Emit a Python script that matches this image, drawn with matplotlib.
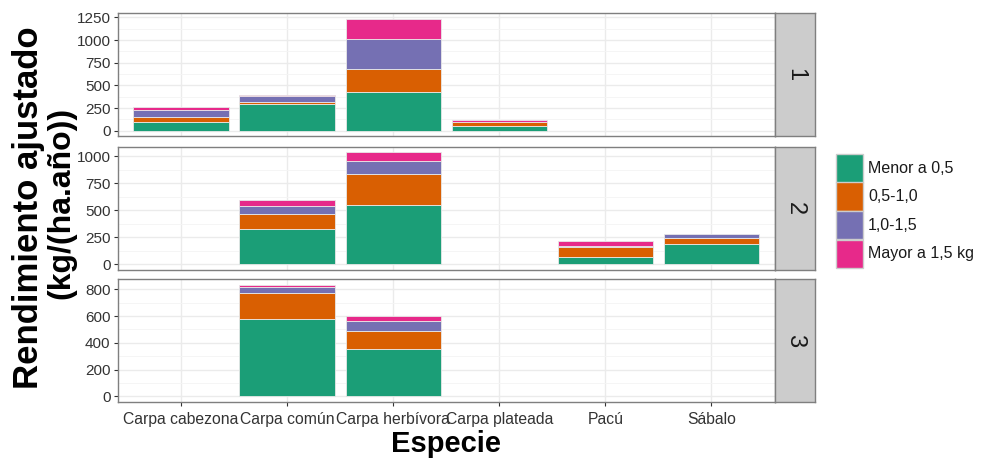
import numpy as np
import matplotlib
matplotlib.use("Agg")
import matplotlib.pyplot as plt
from matplotlib.patches import Rectangle

plt.rcParams['font.family'] = ['Liberation Sans', 'DejaVu Sans']

especies = ["Carpa cabezona", "Carpa común", "Carpa herbívora",
            "Carpa plateada", "Pacú", "Sábalo"]
clases = ["Menor a 0,5", "0,5-1,0", "1,0-1,5", "Mayor a 1,5 kg"]
colores = ["#1B9E77", "#D95F02", "#7570B3", "#E7298A"]
paneles = ["1", "2", "3"]

# panel 1
p1_menor = [100, 292, 430, 55, 0, 0]
p1_05_10 = [55, 30, 248, 45, 0, 0]
p1_10_15 = [70, 59, 333, 0, 0, 0]
p1_mayor = [38, 11, 222, 19, 0, 0]
# panel 2
p2_menor = [0, 323, 544, 0, 70, 184]
p2_05_10 = [0, 138, 295, 0, 90, 59]
p2_10_15 = [0, 80, 114, 0, 12, 34]
p2_mayor = [0, 49, 83, 0, 46, 0]
# panel 3
p3_menor = [0, 579, 355, 0, 0, 0]
p3_05_10 = [0, 191, 133, 0, 0, 0]
p3_10_15 = [0, 47, 76, 0, 0, 0]
p3_mayor = [0, 18, 37, 0, 0, 0]

datos = [
    [p1_menor, p1_05_10, p1_10_15, p1_mayor],
    [p2_menor, p2_05_10, p2_10_15, p2_mayor],
    [p3_menor, p3_05_10, p3_10_15, p3_mayor],
]
ticks_y = [np.arange(0, 1251, 250), np.arange(0, 1001, 250), np.arange(0, 801, 200)]

fig = plt.figure(figsize=(9.81, 4.61), dpi=100)
W, H = 981, 461
left, right, strip_r = 117.5, 775, 815
tops = [13.3, 146.7, 279]
alto = 123

x = np.arange(len(especies))
for i, (serie, yt) in enumerate(zip(datos, ticks_y)):
    ax = fig.add_axes([left / W, 1 - (tops[i] + alto) / H, (right - left) / W, alto / H])
    base = np.zeros(len(especies))
    for vals, col in zip(serie, colores):
        vals = np.array(vals, dtype=float)
        m = vals > 0
        ax.bar(x[m], vals[m], bottom=base[m], width=0.9, color=col,
               edgecolor="#E8E8E8", linewidth=0.6, zorder=3)
        base += vals
    top = base.max()
    ax.set_ylim(-0.05 * top, top * 1.05)
    ax.set_xlim(-0.6, len(especies) - 0.4)
    ax.set_yticks(yt)
    ax.set_yticks(yt[:-1] + (yt[1] - yt[0]) / 2, minor=True)
    ax.set_xticks(x)
    ax.grid(True, which="major", color="#EBEBEB", linewidth=1.0, zorder=0)
    ax.grid(True, which="minor", axis="y", color="#F4F4F4", linewidth=0.6, zorder=0)
    ax.set_axisbelow(True)
    for s in ax.spines.values():
        s.set_color("#7F7F7F")
        s.set_linewidth(1.0)
    ax.tick_params(axis="y", which="major", length=3, color="#333333",
                   labelsize=11, labelcolor="#333333", pad=2)
    ax.tick_params(axis="y", which="minor", length=0)
    if i < 2:
        ax.tick_params(axis="x", length=0, labelbottom=False)
    else:
        ax.set_xticklabels(especies)
        ax.tick_params(axis="x", length=3, color="#333333",
                       labelsize=11.3, labelcolor="#333333", pad=4)

    # strip
    sax = fig.add_axes([right / W, 1 - (tops[i] + alto) / H, (strip_r - right) / W, alto / H])
    sax.set_facecolor("#CCCCCC")
    sax.set_xticks([])
    sax.set_yticks([])
    for s in sax.spines.values():
        s.set_color("#7F7F7F")
        s.set_linewidth(1.0)
    sax.text(0.5, 0.5, paneles[i], rotation=-90, ha="center", va="center",
             fontsize=17, color="#1A1A1A", transform=sax.transAxes)

# y title, two lines
fig.text(29 / W, 1 - 208 / H, "Rendimiento ajustado", rotation=90,
         ha="center", va="center", fontsize=25, fontweight="bold")
fig.text(61 / W, 1 - 203 / H, "(kg/(ha.año))", rotation=90,
         ha="center", va="center", fontsize=23, fontweight="bold")
fig.text((left + right) / 2 / W, 1 - 444 / H, "Especie", ha="center", va="center",
         fontsize=21, fontweight="bold")

# legend
kx, ky, kw, kh = 836, 154, 27, 28.5
for j, (lab, col) in enumerate(zip(clases, colores)):
    y0 = ky + j * kh
    fig.add_artist(Rectangle((kx / W, 1 - (y0 + kh) / H), kw / W, kh / H,
                             transform=fig.transFigure, facecolor=col,
                             edgecolor="#CCCCCC", linewidth=1.0))
    fig.text((kx + kw + 5) / W, 1 - (y0 + kh / 2) / H, lab, ha="left", va="center",
             fontsize=11.5, color="#1A1A1A")

fig.savefig("out.png", dpi=100)
